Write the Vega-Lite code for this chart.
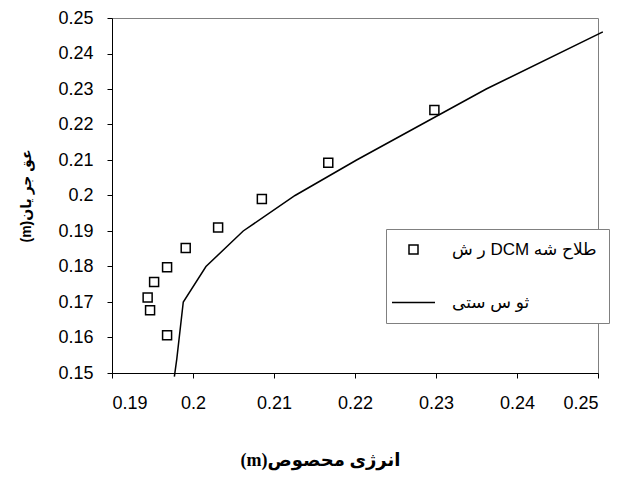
{
  "$schema": "https://vega.github.io/schema/vega-lite/v6.json",
  "width": 486,
  "height": 355,
  "autosize": {"type": "none"},
  "padding": {"left": 112, "top": 18, "right": 19, "bottom": 104},
  "background": "white",
  "config": {
    "view": {"stroke": "#808080", "strokeWidth": 1},
    "axis": {
      "grid": false,
      "domainColor": "#000000",
      "domainWidth": 1,
      "tickColor": "#000000",
      "tickSize": 5,
      "labelFont": "Liberation Sans",
      "labelFontSize": 18,
      "labelColor": "#000000",
      "titleColor": "#000000"
    }
  },
  "datasets": {
    "measured": [
      {"x": 0.2298, "y": 0.2241, "series": "ر ش DCM طلاح شه"},
      {"x": 0.2167, "y": 0.2092, "series": "ر ش DCM طلاح شه"},
      {"x": 0.2085, "y": 0.1990, "series": "ر ش DCM طلاح شه"},
      {"x": 0.2031, "y": 0.1910, "series": "ر ش DCM طلاح شه"},
      {"x": 0.1991, "y": 0.1852, "series": "ر ش DCM طلاح شه"},
      {"x": 0.1968, "y": 0.1798, "series": "ر ش DCM طلاح شه"},
      {"x": 0.1952, "y": 0.1756, "series": "ر ش DCM طلاح شه"},
      {"x": 0.1944, "y": 0.1713, "series": "ر ش DCM طلاح شه"},
      {"x": 0.1947, "y": 0.1677, "series": "ر ش DCM طلاح شه"},
      {"x": 0.1968, "y": 0.1606, "series": "ر ش DCM طلاح شه"}
    ],
    "theory": [
      {"x": 0.1977, "y": 0.1490, "series": "ثو س ستی"},
      {"x": 0.1980, "y": 0.1540, "series": "ثو س ستی"},
      {"x": 0.1988, "y": 0.1700, "series": "ثو س ستی"},
      {"x": 0.2016, "y": 0.1800, "series": "ثو س ستی"},
      {"x": 0.2062, "y": 0.1900, "series": "ثو س ستی"},
      {"x": 0.2126, "y": 0.2000, "series": "ثو س ستی"},
      {"x": 0.2202, "y": 0.2100, "series": "ثو س ستی"},
      {"x": 0.2282, "y": 0.2200, "series": "ثو س ستی"},
      {"x": 0.2362, "y": 0.2300, "series": "ثو س ستی"},
      {"x": 0.2506, "y": 0.2461, "series": "ثو س ستی"}
    ]
  },
  "encoding": {
    "x": {
      "field": "x",
      "type": "quantitative",
      "scale": {"domain": [0.19, 0.25], "nice": false, "zero": false},
      "axis": {
        "values": [0.19, 0.2, 0.21, 0.22, 0.23, 0.24, 0.25],
        "format": "~g",
        "labelPadding": 16,
        "title": "(m)انرژی محصوص",
        "titleFont": "Liberation Serif, DejaVu Sans",
        "titleFontSize": 18,
        "titleFontWeight": "bold",
        "titleX": 208,
        "titleY": 87,
        "titleBaseline": "middle"
      }
    },
    "y": {
      "field": "y",
      "type": "quantitative",
      "scale": {"domain": [0.15, 0.25], "nice": false, "zero": false},
      "axis": {
        "values": [0.15, 0.16, 0.17, 0.18, 0.19, 0.2, 0.21, 0.22, 0.23, 0.24, 0.25],
        "format": "~g",
        "labelPadding": 14,
        "title": "(m)عق جر یان",
        "titleFont": "Liberation Sans, DejaVu Sans",
        "titleFontSize": 14,
        "titleFontWeight": "bold",
        "titlePadding": 24
      }
    },
    "color": {
      "field": "series",
      "type": "nominal",
      "scale": {"domain": ["ر ش DCM طلاح شه", "ثو س ستی"], "range": ["#000000", "#000000"]},
      "legend": {
        "orient": "none",
        "legendX": 274,
        "legendY": 211,
        "title": null,
        "strokeColor": "#808080",
        "fillColor": "white",
        "padding": 12,
        "symbolOffset": 7,
        "symbolSize": 81,
        "rowPadding": 35,
        "labelOffset": 30,
        "labelFont": "Liberation Sans, DejaVu Sans",
        "labelFontSize": 17,
        "labelColor": "#000000",
        "labelLimit": 400,
        "encode": {
          "symbols": {
            "update": {
              "shape": {"signal": "datum.value === 'ثو س ستی' ? 'stroke' : 'square'"},
              "size": {"signal": "datum.value === 'ثو س ستی' ? 1849 : 81"},
              "stroke": {"value": "#000000"},
              "fill": {"value": "#ffffff"},
              "strokeWidth": {"value": 1.5},
              "opacity": {"value": 1}
            }
          }
        }
      }
    }
  },
  "layer": [
    {
      "data": {"name": "theory"},
      "mark": {"type": "line", "strokeWidth": 1.5, "clip": false}
    },
    {
      "data": {"name": "measured"},
      "mark": {"type": "point", "shape": "square", "size": 81, "filled": false, "fill": "#ffffff", "fillOpacity": 1, "strokeWidth": 1.5, "opacity": 1}
    }
  ]
}
